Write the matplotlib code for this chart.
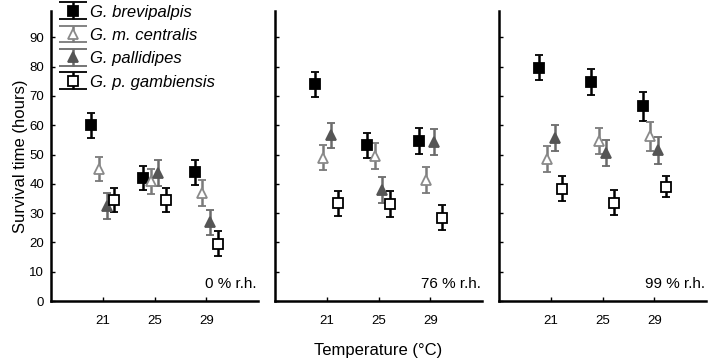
import numpy as np
import matplotlib.pyplot as plt

plt.rcParams['font.family'] = ['Liberation Sans', 'DejaVu Sans']

temps = np.array([21, 25, 29])
panels = ['0 % r.h.', '76 % r.h.', '99 % r.h.']
species = ['G. brevipalpis', 'G. m. centralis', 'G. pallidipes', 'G. p. gambiensis']

# mean survival time (hours), rows = species, cols = 21, 25, 29 degC
rh0_mean = [[60.0, 42.0, 43.9],
            [45.1, 40.8, 36.8],
            [32.3, 43.6, 26.8],
            [34.5, 34.5, 19.6]]
rh0_err = [[4.3, 4.2, 4.4],
           [4.2, 4.3, 4.4],
           [4.4, 4.4, 4.4],
           [4.2, 4.2, 4.3]]
rh76_mean = [[74.0, 53.2, 54.6],
             [48.9, 49.5, 41.3],
             [56.5, 37.9, 54.3],
             [33.3, 33.1, 28.5]]
rh76_err = [[4.3, 4.3, 4.3],
            [4.3, 4.4, 4.3],
            [4.3, 4.3, 4.3],
            [4.4, 4.3, 4.3]]
rh99_mean = [[79.7, 74.7, 66.5],
             [48.6, 54.6, 56.2],
             [55.6, 50.5, 51.4],
             [38.4, 33.6, 39.0]]
rh99_err = [[4.4, 4.4, 5.0],
            [4.4, 4.3, 5.0],
            [4.4, 4.4, 4.7],
            [4.3, 4.4, 3.6]]

means = [rh0_mean, rh76_mean, rh99_mean]
errs = [rh0_err, rh76_err, rh99_err]

offsets = [-0.88, -0.29, 0.29, 0.88]
markers = ['s', '^', '^', 's']
faces = ['black', 'white', '#555555', 'white']
edges = ['black', '#8a8a8a', '#555555', 'black']
ecolors = ['black', '#7a7a7a', '#6a6a6a', 'black']
msizes = [6.5, 7, 7, 6.5]

fig = plt.figure(figsize=(7.09, 3.64), dpi=100)
lefts = [51, 275, 499]
axes = []
for p in range(3):
    ax = fig.add_axes([lefts[p] / 709, 1 - 301 / 364, 207 / 709, 290 / 364])
    axes.append(ax)
    for s in range(4):
        ax.errorbar(temps + offsets[s], means[p][s], yerr=errs[p][s],
                    fmt=markers[s], ms=msizes[s], mfc=faces[s], mec=edges[s],
                    mew=1.3, ecolor=ecolors[s], elinewidth=1.8, capsize=3,
                    capthick=1.8)
    ax.set_xlim(17, 33)
    ax.set_ylim(0, 99)
    ax.set_xticks(temps)
    ax.set_yticks(np.arange(0, 91, 10))
    ax.tick_params(direction='in', length=3, width=1, labelsize=9.5)
    ax.tick_params(axis='x', pad=10)
    ax.tick_params(axis='y', pad=5)
    ax.spines['top'].set_visible(False)
    ax.spines['right'].set_visible(False)
    ax.spines['left'].set_linewidth(1.8)
    ax.spines['bottom'].set_linewidth(1.8)
    ax.text(0.995, 0.06, panels[p], transform=ax.transAxes, ha='right',
            va='center', fontsize=11)
    if p > 0:
        ax.set_yticklabels([])

axes[0].set_ylabel('Survival time (hours)', fontsize=12, labelpad=1)
fig.text(378.5 / 709, 1 - 350 / 364, 'Temperature (°C)', ha='center',
         va='center', fontsize=12)

# legend proxies with wide caps, like the original figure
handles = []
for s in range(4):
    h = axes[0].errorbar([np.nan], [np.nan], yerr=[1], fmt=markers[s],
                         ms=msizes[s], mfc=faces[s], mec=edges[s], mew=1.3,
                         ecolor=ecolors[s], elinewidth=1.8, capsize=10,
                         capthick=1.8, label=species[s])
    handles.append(h)

leg = axes[0].legend(handles=handles, loc='upper left',
                     bbox_to_anchor=(0.02, 1.045), frameon=False, fontsize=12,
                     handlelength=1.3, handletextpad=0.4, labelspacing=0.5,
                     borderaxespad=0)
for t in leg.get_texts():
    t.set_fontstyle('italic')

fig.savefig('out.png', dpi=100)
